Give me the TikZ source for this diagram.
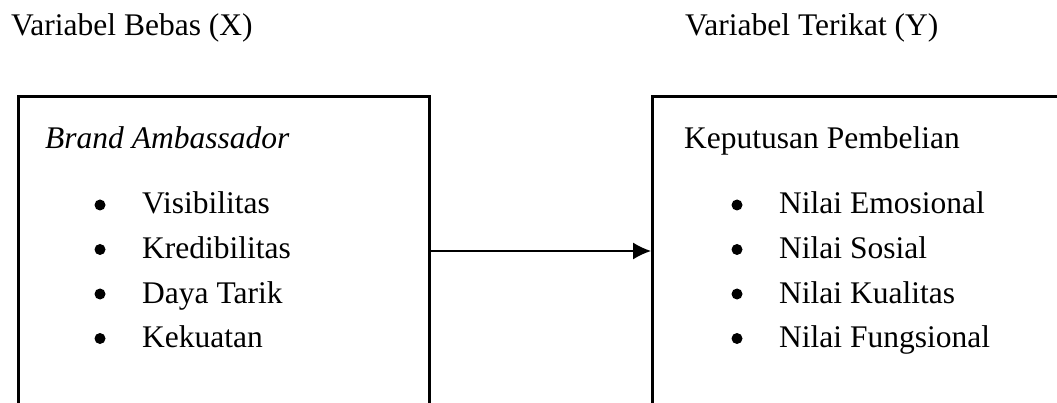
\documentclass[tikz,border=0pt]{standalone}
\usepackage{fontspec}
\setmainfont{Liberation Serif}
\usetikzlibrary{arrows.meta}
\tikzset{
  varbox/.style={draw, line width=2.8, rectangle, anchor=north west, inner sep=0},
  txt/.style={anchor=base west, inner sep=0, font=\fontsize{31.5}{36}\selectfont},
  dot/.style={circle, fill, inner sep=0, minimum size=11},
  link/.style={line width=1.4, -{Latex[length=18, width=17]}}
}
\begin{document}
\begin{tikzpicture}[x=1pt, y=-1pt]
\useasboundingbox (0,0) rectangle (1057,403);
\clip (0,0) rectangle (1057,403);

% headings
\node[txt] (hx) at (11,36) {Variabel Bebas (X)};
\node[txt] (hy) at (685,36) {Variabel Terikat (Y)};

% variable boxes (run past the lower edge)
\node[varbox, minimum width=411, minimum height=340] (xbox) at (17,95) {};
\node[varbox, minimum width=440, minimum height=340] (ybox) at (651,95) {};

% box titles
\node[txt] (tx) at (45,149) {\itshape Brand Ambassador};
\node[txt] (ty) at (684,149) {Keputusan Pembelian};

% indicators of X
\foreach \i/\t [count=\k] in {a/Visibilitas, b/Kredibilitas, c/Daya Tarik, d/Kekuatan}{
  \node[txt] (x\i) at (142,{214+44.5*(\k-1)}) {\t};
  \node[dot] (bx\i) at (100,{205+44.5*(\k-1)}) {};
}
% indicators of Y
\foreach \i/\t [count=\k] in {a/Nilai Emosional, b/Nilai Sosial, c/Nilai Kualitas, d/Nilai Fungsional}{
  \node[txt] (y\i) at (779,{214+44.5*(\k-1)}) {\t};
  \node[dot] (by\i) at (737,{205+44.5*(\k-1)}) {};
}

% influence of X on Y
\coordinate (lvl) at (0,251);
\draw[link] (xbox.east |- lvl) -- (ybox.west |- lvl);
\end{tikzpicture}
\end{document}
